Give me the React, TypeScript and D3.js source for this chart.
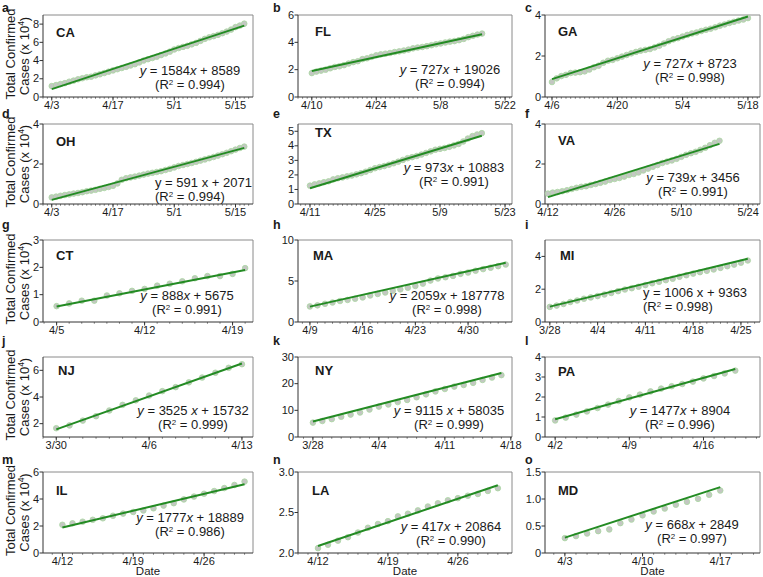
import React from 'react';
import * as d3 from 'd3';

const FONT = '"Liberation Sans", Arial, Helvetica, sans-serif';

// ---------------- data ----------------
const states = ['CA', 'FL', 'GA', 'OH', 'TX', 'VA', 'CT', 'MA', 'MI', 'NJ', 'NY', 'PA', 'IL', 'LA', 'MD'];
const panelLetters = ['a', 'b', 'c', 'd', 'e', 'f', 'g', 'h', 'i', 'j', 'k', 'l', 'm', 'n', 'o'];

// first observed day of each series (M/D, 2020)
const firstDates = ['4/3', '4/10', '4/6', '4/3', '4/11', '4/12', '4/5', '4/9', '3/28', '3/30', '3/28', '4/2', '4/12', '4/12', '4/3'];

// x axis extents
const xDomainStart = ['2020-04-01T00:00', '2020-04-07T00:00', '2020-04-04T12:00', '2020-04-01T00:00', '2020-04-08T10:00', '2020-04-11T09:00', '2020-04-03T22:00', '2020-04-07T10:00', '2020-03-27T07:00', '2020-03-29T00:00', '2020-03-26T10:00', '2020-04-01T01:00', '2020-04-10T02:00', '2020-04-10T00:00', '2020-04-01T05:00'];
const xDomainEnd = ['2020-05-19T00:00', '2020-05-23T12:00', '2020-05-20T14:00', '2020-05-19T00:00', '2020-05-24T12:00', '2020-05-26T12:00', '2020-04-20T15:00', '2020-05-05T20:00', '2020-04-27T19:00', '2020-04-13T20:00', '2020-04-18T03:00', '2020-04-21T08:00', '2020-04-30T20:00', '2020-05-01T10:00', '2020-04-20T14:00'];

const xTickLabels = [
  ['4/3', '4/17', '5/1', '5/15'],
  ['4/10', '4/24', '5/8', '5/22'],
  ['4/6', '4/20', '5/4', '5/18'],
  ['4/3', '4/17', '5/1', '5/15'],
  ['4/11', '4/25', '5/9', '5/23'],
  ['4/12', '4/26', '5/10', '5/24'],
  ['4/5', '4/12', '4/19'],
  ['4/9', '4/16', '4/23', '4/30'],
  ['3/28', '4/4', '4/11', '4/18', '4/25'],
  ['3/30', '4/6', '4/13'],
  ['3/28', '4/4', '4/11', '4/18'],
  ['4/2', '4/9', '4/16'],
  ['4/12', '4/19', '4/26'],
  ['4/12', '4/19', '4/26'],
  ['4/3', '4/10', '4/17'],
];

const yMin = [0, 0, 0, 0, 0, 0, 0, 0, 0, 1, 0, 0, 0, 2, 0];
const yMax = [9, 6, 4, 4, 5.5, 4, 3, 10, 5, 7, 30, 4, 6, 3, 1.5];
const yTickValues = [
  [0, 2, 4, 6, 8], [0, 2, 4, 6], [0, 2, 4],
  [0, 2, 4], [0, 1, 2, 3, 4, 5], [0, 2, 4],
  [0, 1, 2, 3], [0, 5, 10], [0, 2, 4],
  [2, 4, 6], [0, 10, 20, 30], [0, 1, 2, 3, 4],
  [0, 2, 4, 6], [2, 2.5, 3], [0, 0.5, 1, 1.5],
];
const yTickLabels = [
  ['0', '2', '4', '6', '8'], ['0', '2', '4', '6'], ['0', '2', '4'],
  ['0', '2', '4'], ['0', '1', '2', '3', '4', '5'], ['0', '2', '4'],
  ['0', '1', '2', '3'], ['0', '5', '10'], ['0', '2', '4'],
  ['2', '4', '6'], ['0', '10', '20', '30'], ['0', '1', '2', '3', '4'],
  ['0', '2', '4', '6'], ['2.0', '2.5', '3.0'], ['0', '0.5', '1.0', '1.5'],
];

// linear fits (cases per day, cases at first day)
const slopes = [1584, 727, 727, 591, 973, 739, 888, 2059, 1006, 3525, 9115, 1477, 1777, 417, 668];
const intercepts = [8589, 19026, 8723, 2071, 10883, 3456, 5675, 18778, 9363, 15732, 58035, 8904, 18889, 20864, 2849];
const eqTexts = [
  'y = 1584x + 8589', 'y = 727x + 19026', 'y = 727x + 8723',
  'y = 591 x + 2071', 'y = 973x + 10883', 'y = 739x + 3456',
  'y = 888x + 5675', 'y = 2059x + 187778', 'y = 1006 x + 9363',
  'y = 3525 x + 15732', 'y = 9115 x + 58035', 'y = 1477x + 8904',
  'y = 1777x + 18889', 'y = 417x + 20864', 'y = 668x + 2849',
];
const eqItalic = [true, true, true, false, true, true, true, true, false, true, true, true, true, true, true];
const r2Values = ['0.994', '0.994', '0.998', '0.994', '0.991', '0.991', '0.991', '0.998', '0.998', '0.999', '0.999', '0.996', '0.986', '0.990', '0.997'];

// daily total confirmed cases (x 10^4)
const caValues = [1.20, 1.31, 1.42, 1.52, 1.68, 1.80, 1.94, 2.06, 2.17, 2.23, 2.37, 2.49, 2.63, 2.78, 2.92, 3.05, 3.18, 3.31, 3.45, 3.60, 3.80, 4.00, 4.15, 4.28, 4.42, 4.60, 4.78, 4.98, 5.22, 5.37, 5.50, 5.62, 5.78, 5.94, 6.16, 6.38, 6.55, 6.68, 6.82, 7.00, 7.18, 7.40, 7.67, 7.84, 8.05];
const flValues = [1.75, 1.86, 1.93, 2.00, 2.10, 2.20, 2.25, 2.33, 2.45, 2.55, 2.62, 2.77, 2.83, 2.94, 3.05, 3.12, 3.17, 3.22, 3.29, 3.34, 3.40, 3.47, 3.56, 3.62, 3.66, 3.72, 3.79, 3.86, 3.92, 3.99, 4.05, 4.09, 4.16, 4.25, 4.38, 4.48, 4.57, 4.64];
const gaValues = [0.73, 0.91, 1.02, 1.08, 1.17, 1.19, 1.21, 1.25, 1.34, 1.45, 1.53, 1.67, 1.77, 1.81, 1.89, 1.97, 2.05, 2.13, 2.20, 2.26, 2.30, 2.34, 2.42, 2.50, 2.61, 2.72, 2.81, 2.87, 2.95, 3.03, 3.10, 3.15, 3.22, 3.28, 3.33, 3.40, 3.48, 3.54, 3.61, 3.67, 3.73, 3.78, 3.85];
const ohValues = [0.33, 0.37, 0.41, 0.45, 0.48, 0.52, 0.55, 0.59, 0.64, 0.67, 0.71, 0.76, 0.80, 0.85, 0.91, 1.03, 1.21, 1.29, 1.33, 1.37, 1.42, 1.47, 1.52, 1.56, 1.60, 1.64, 1.70, 1.76, 1.83, 1.90, 1.95, 2.00, 2.05, 2.11, 2.17, 2.23, 2.29, 2.35, 2.42, 2.49, 2.56, 2.64, 2.72, 2.80, 2.87];
const txValues = [1.26, 1.35, 1.42, 1.50, 1.56, 1.69, 1.77, 1.83, 1.90, 1.96, 2.04, 2.12, 2.22, 2.34, 2.46, 2.54, 2.61, 2.70, 2.80, 2.91, 3.03, 3.15, 3.22, 3.30, 3.40, 3.51, 3.62, 3.73, 3.79, 3.85, 3.93, 4.03, 4.13, 4.30, 4.50, 4.67, 4.78, 4.87];
const vaValues = [0.52, 0.57, 0.60, 0.64, 0.69, 0.75, 0.81, 0.86, 0.89, 0.95, 1.00, 1.06, 1.12, 1.20, 1.25, 1.30, 1.37, 1.45, 1.50, 1.58, 1.68, 1.77, 1.86, 1.95, 2.05, 2.12, 2.18, 2.26, 2.36, 2.46, 2.54, 2.61, 2.71, 2.81, 2.94, 3.06, 3.16];
const ctValues = [0.58, 0.68, 0.78, 0.78, 0.97, 1.05, 1.14, 1.21, 1.33, 1.40, 1.49, 1.60, 1.68, 1.68, 1.76, 1.97];
const maValues = [1.90, 2.03, 2.22, 2.38, 2.56, 2.69, 2.84, 3.00, 3.24, 3.42, 3.60, 3.81, 3.98, 4.18, 4.40, 4.68, 5.05, 5.31, 5.46, 5.62, 5.87, 6.03, 6.25, 6.45, 6.62, 6.81, 7.01];
const miValues = [0.92, 1.00, 1.10, 1.22, 1.31, 1.42, 1.50, 1.58, 1.68, 1.77, 1.88, 1.98, 2.06, 2.15, 2.25, 2.36, 2.45, 2.55, 2.64, 2.76, 2.85, 2.95, 3.04, 3.12, 3.20, 3.30, 3.40, 3.50, 3.62, 3.75];
const njValues = [1.66, 1.87, 2.23, 2.56, 2.99, 3.41, 3.75, 4.11, 4.44, 4.74, 5.10, 5.46, 5.82, 6.19, 6.46];
const nyValues = [5.4, 6.0, 6.7, 7.6, 8.4, 9.2, 10.3, 11.4, 12.2, 13.1, 13.9, 14.9, 16.0, 17.1, 18.0, 18.9, 19.5, 20.3, 21.4, 22.3, 23.2];
const paValues = [0.83, 0.97, 1.12, 1.28, 1.45, 1.62, 1.80, 1.98, 2.12, 2.28, 2.42, 2.54, 2.65, 2.77, 2.93, 3.05, 3.18, 3.32];
const ilValues = [2.09, 2.20, 2.32, 2.46, 2.57, 2.76, 2.92, 3.04, 3.15, 3.31, 3.51, 3.69, 3.97, 4.18, 4.39, 4.59, 4.81, 5.04, 5.29];
const laValues = [2.060, 2.102, 2.152, 2.195, 2.253, 2.312, 2.358, 2.393, 2.452, 2.485, 2.526, 2.574, 2.614, 2.651, 2.677, 2.707, 2.729, 2.766, 2.800];
const mdValues = [0.276, 0.313, 0.361, 0.405, 0.437, 0.553, 0.619, 0.697, 0.769, 0.823, 0.894, 0.947, 1.003, 1.078, 1.157];

const seriesValues = [caValues, flValues, gaValues, ohValues, txValues, vaValues, ctValues, maValues, miValues, njValues, nyValues, paValues, ilValues, laValues, mdValues];

// ---------------- layout ----------------
const W = 763;
const H = 577;
const colLeft = [43, 298, 545];
const colRight = [253, 512, 760];
const rowTop = [15, 124, 240, 357, 472];
const rowBottom = [97, 204, 322, 437, 553];
const letterX = [2, 273, 525];
const letterY = [12, 118, 229, 345, 464];
const stateDx = [13, 17, 13, 13, 17, 13, 13, 15, 15, 15, 17, 13, 13, 14, 13];
const stateDy = [22, 21, 21, 22, 13, 21, 20, 20, 20, 18, 18, 19, 23, 23, 23];
const eqAnchor = ['middle', 'middle', 'middle', 'start', 'middle', 'middle', 'middle', 'middle', 'start', 'middle', 'middle', 'middle', 'middle', 'middle', 'middle'];
const eqDx = [147, 152, 145, 112, 156, 148, 144, 149, 98, 150, 151, 135, 147, 153, 147];
const eqDy = [60, 59, 53, 63, 48, 58, 60, 60, 57, 58, 58, 58, 50, 59, 57];
const r2Gap = 14;

const LINE_COLOR = '#238b23';
const DOT_FILL = '#c3c7c2';
const DOT_STROKE = '#a9d8a1';
const AXIS_COLOR = '#333';
const FRAME_COLOR = '#8a8a8a';
const TEXT_COLOR = '#1a1a1a';

const parseT = d3.timeParse('%Y-%m-%dT%H:%M');
const md = (s: string) => {
  const [m, d] = s.split('/').map(Number);
  return new Date(2020, m - 1, d);
};

function EqText({ text, italic }: { text: string; italic: boolean }) {
  const parts = text.split(/(x|y)/).filter((p) => p.length > 0);
  return (
    <>
      {parts.map((p, k) => (
        <tspan key={k} fontStyle={italic && (p === 'x' || p === 'y') ? 'italic' : 'normal'}>
          {p}
        </tspan>
      ))}
    </>
  );
}

function Panel({ i }: { i: number }) {
  const col = i % 3;
  const row = Math.floor(i / 3);
  const L = colLeft[col];
  const R = colRight[col];
  const T = rowTop[row];
  const B = rowBottom[row];
  const x = d3.scaleTime().domain([parseT(xDomainStart[i])!, parseT(xDomainEnd[i])!]).range([L, R]);
  const y = d3.scaleLinear().domain([yMin[i], yMax[i]]).range([B, T]);
  const vals = seriesValues[i];
  const first = md(firstDates[i]);
  const n = vals.length;
  const fit = (k: number) => (slopes[i] * k + intercepts[i]) / 1e4;
  const lastDay = d3.timeDay.offset(first, n - 1);
  const linePath = d3.line()([
    [x(first), y(fit(0))],
    [x(lastDay), y(fit(n - 1))],
  ]) as string;
  const [d0, d1] = x.domain();
  const days = d3.timeDay.range(d0, d1);
  const majors = xTickLabels[i].map(md);
  const ex = L + eqDx[i];
  const ey = T + eqDy[i];
  const anchor = eqAnchor[i] as any;

  return (
    <g>
      {/* frame */}
      <line x1={L} x2={R} y1={T} y2={T} stroke={FRAME_COLOR} strokeWidth={1} />
      <line x1={R} x2={R} y1={T} y2={B} stroke={FRAME_COLOR} strokeWidth={1} />
      {/* minor x ticks */}
      {days.map((d, k) => (
        <line key={'m' + k} x1={x(d)} x2={x(d)} y1={B} y2={B + 1.8} stroke={AXIS_COLOR} strokeWidth={0.6} />
      ))}
      {/* major x ticks */}
      {majors.map((d, k) => (
        <g key={'x' + k}>
          <line x1={x(d)} x2={x(d)} y1={B} y2={B + 3.5} stroke={AXIS_COLOR} strokeWidth={1} />
          <text x={x(d)} y={B + 11.5} textAnchor="middle" fontSize={11} fill={TEXT_COLOR}>
            {xTickLabels[i][k]}
          </text>
        </g>
      ))}
      {/* y ticks */}
      {yTickValues[i].map((v, k) => (
        <g key={'y' + k}>
          <line x1={L - 3.5} x2={L} y1={y(v)} y2={y(v)} stroke={AXIS_COLOR} strokeWidth={1} />
          <text x={L - 4} y={y(v) + 3.5} textAnchor="end" fontSize={11} fill={TEXT_COLOR}>
            {yTickLabels[i][k]}
          </text>
        </g>
      ))}
      {/* axes */}
      <line x1={L} x2={L} y1={T} y2={B} stroke={AXIS_COLOR} strokeWidth={1} />
      <line x1={L} x2={R} y1={B} y2={B} stroke={AXIS_COLOR} strokeWidth={1} />
      {/* points */}
      {vals.map((v, k) => (
        <circle
          key={'p' + k}
          cx={x(d3.timeDay.offset(first, k))}
          cy={y(v)}
          r={2.8}
          fill={DOT_FILL}
          stroke={DOT_STROKE}
          strokeWidth={0.8}
        />
      ))}
      {/* fit */}
      <path d={linePath} stroke={LINE_COLOR} strokeWidth={2} fill="none" />
      {/* state label */}
      <text x={L + stateDx[i]} y={T + stateDy[i]} fontSize={13} fontWeight="bold" fill={TEXT_COLOR}>
        {states[i]}
      </text>
      {/* equation */}
      <text x={ex} y={ey} textAnchor={anchor} fontSize={13} fill={TEXT_COLOR}>
        <EqText text={eqTexts[i]} italic={eqItalic[i]} />
      </text>
      <text x={ex} y={ey + r2Gap} textAnchor={anchor} fontSize={13} fill={TEXT_COLOR}>
        (R<tspan fontSize={8} dy={-4.5}>2</tspan>
        <tspan dy={4.5}>{' = ' + r2Values[i] + ')'}</tspan>
      </text>
      {/* panel letter */}
      <text x={letterX[col]} y={letterY[row]} fontSize={12.5} fontWeight="bold" fill={TEXT_COLOR}>
        {panelLetters[i]}
      </text>
    </g>
  );
}

export default function App() {
  return (
    <svg
      width={W}
      height={H}
      viewBox={`0 0 ${W} ${H}`}
      style={{ position: 'absolute', left: 0, top: 0, background: '#fff' }}
      fontFamily={FONT}
    >
      <rect width={W} height={H} fill="#fff" />
      {states.map((_, i) => (
        <Panel key={i} i={i} />
      ))}
      {rowTop.map((t, r) => {
        const cy = (t + rowBottom[r]) / 2 - 2;
        return (
          <g key={'yt' + r}>
            <text transform={`translate(15,${cy}) rotate(-90)`} textAnchor="middle" fontSize={13} fill={TEXT_COLOR}>
              Total Confirmed
            </text>
            <text transform={`translate(29,${cy + 2}) rotate(-90)`} textAnchor="middle" fontSize={13} fill={TEXT_COLOR}>
              Cases (x 10<tspan fontSize={8.5} dy={-5}>4</tspan>
              <tspan dy={5}>)</tspan>
            </text>
          </g>
        );
      })}
      {colLeft.map((l, c) => (
        <text key={'dt' + c} x={(l + colRight[c]) / 2} y={574.5} textAnchor="middle" fontSize={11.5} fill={TEXT_COLOR}>
          Date
        </text>
      ))}
    </svg>
  );
}
